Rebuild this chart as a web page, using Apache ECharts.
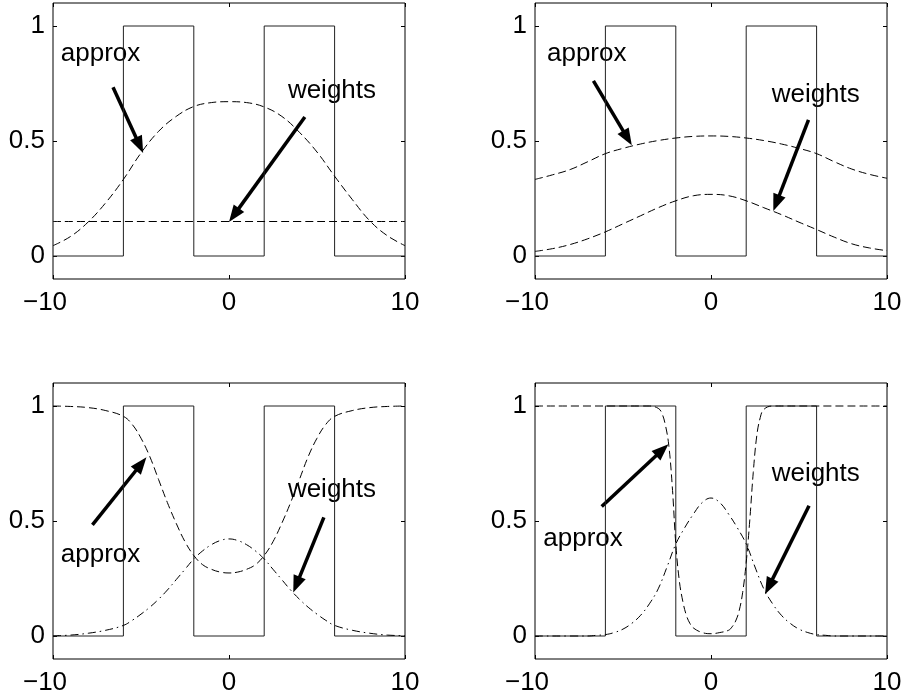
<!DOCTYPE html>
<html>
<head>
<meta charset="utf-8">
<script src="https://cdn.jsdelivr.net/npm/echarts@6/dist/echarts.min.js"></script>
<style>
  html, body { margin: 0; background: #fff; }
  #chart { width: 905px; height: 700px; }
</style>
</head>
<body>
<div id="chart"></div>
<script>
// tick values shared by all four panels
var xTicks = [-10, 0, 10];
var yTicks = [0, 0.5, 1];

// target: square wave
var squareX = [-10, -6, -6, -2, -2, 2, 2, 6, 6, 10];
var squareY = [0, 0, 1, 1, 0, 0, 1, 1, 0, 0];

// panel 1 (top left)
var tlX = [-10, -9, -8, -7, -6, -5, -4, -3, -2, -1, 0, 1, 2, 3, 4, 5, 6, 7, 8, 9, 10];
var tlApprox = [0.045, 0.085, 0.148, 0.232, 0.333, 0.448, 0.542, 0.607, 0.650, 0.667, 0.671, 0.667, 0.648, 0.607, 0.538, 0.452, 0.347, 0.246, 0.153, 0.088, 0.045];
var tlWeightsX = [-10, 10];
var tlWeights = [0.15, 0.15];

// panel 2 (top right)
var trX = [-10, -9, -8, -7, -6, -5, -4, -3, -2, -1, 0, 1, 2, 3, 4, 5, 6, 7, 8, 9, 10];
var trApprox = [0.333, 0.353, 0.376, 0.41, 0.445, 0.468, 0.487, 0.502, 0.513, 0.52, 0.522, 0.52, 0.513, 0.502, 0.487, 0.468, 0.445, 0.41, 0.378, 0.355, 0.338];
var trWeights = [0.02, 0.032, 0.05, 0.075, 0.105, 0.14, 0.175, 0.21, 0.24, 0.262, 0.268, 0.262, 0.24, 0.21, 0.18, 0.147, 0.115, 0.082, 0.053, 0.035, 0.023];

// panel 3 (bottom left)
var blX = [-10, -9, -8, -7, -6, -5.5, -5, -4.5, -4, -3.5, -3, -2.5, -2, -1.5, -1, -0.5, 0,
           0.5, 1, 1.5, 2, 2.5, 3, 3.5, 4, 4.5, 5, 5.5, 6, 7, 8, 9, 10];
var blApprox = [1, 0.998, 0.993, 0.98, 0.955, 0.92, 0.86, 0.78, 0.68, 0.58, 0.49, 0.41, 0.35, 0.31, 0.29, 0.278, 0.274,
                0.278, 0.29, 0.31, 0.35, 0.41, 0.49, 0.58, 0.68, 0.78, 0.86, 0.92, 0.955, 0.98, 0.993, 0.998, 1];
var blWeights = [0.001, 0.004, 0.012, 0.025, 0.046, 0.068, 0.095, 0.125, 0.16, 0.2, 0.245, 0.29, 0.335, 0.37, 0.397, 0.415, 0.422,
                 0.415, 0.397, 0.37, 0.335, 0.29, 0.245, 0.2, 0.16, 0.125, 0.095, 0.068, 0.046, 0.025, 0.012, 0.004, 0.001];

// panel 4 (bottom right)
var brApproxX = [-10, -5, -4, -3.5, -3, -2.8, -2.6, -2.4, -2.2, -2, -1.8, -1.6, -1.4, -1.2, -1, -0.5, 0,
                 0.5, 1, 1.2, 1.4, 1.6, 1.8, 2, 2.2, 2.4, 2.6, 2.8, 3, 3.5, 4, 5, 10];
var brApprox = [1, 1, 1, 1, 0.99, 0.97, 0.92, 0.83, 0.65, 0.4, 0.24, 0.15, 0.09, 0.055, 0.035, 0.015, 0.01,
                0.015, 0.025, 0.04, 0.065, 0.11, 0.19, 0.32, 0.5, 0.71, 0.87, 0.95, 0.985, 1, 1, 1, 1];
var brWeightsX = [-10, -7, -6.5, -6, -5.5, -5, -4.5, -4, -3.5, -3, -2.5, -2, -1.5, -1, -0.5, 0,
                  0.5, 1, 1.5, 2, 2.5, 3, 3.5, 4, 4.5, 5, 5.5, 6, 6.5, 7, 10];
var brWeights = [0, 0, 0.003, 0.006, 0.015, 0.03, 0.055, 0.09, 0.14, 0.205, 0.3, 0.4, 0.47, 0.53, 0.58, 0.6,
                 0.58, 0.53, 0.47, 0.4, 0.3, 0.205, 0.14, 0.09, 0.055, 0.03, 0.015, 0.006, 0.003, 0, 0];

// annotations: arrows [tailX, tailY, tipX, tipY], labels [x, y]
var labelTexts = ['approx', 'weights'];
var tlArrows = [[-6.59, 0.734, -4.88, 0.448], [4.31, 0.604, 0.0, 0.148]];
var tlLabels = [[-7.30, 0.879], [5.85, 0.718]];
var trArrows = [[-6.68, 0.761, -4.50, 0.481], [5.54, 0.592, 3.54, 0.196]];
var trLabels = [[-7.06, 0.879], [5.95, 0.700]];
var blArrows = [[-7.76, 0.483, -4.69, 0.777], [5.39, 0.516, 3.65, 0.189]];
var blLabels = [[-7.30, 0.355], [5.85, 0.636]];
var brArrows = [[-6.21, 0.563, -2.42, 0.834], [5.57, 0.566, 3.07, 0.182]];
var brLabels = [[-7.27, 0.422], [5.95, 0.703]];

var FONT = "'Liberation Sans', Arial, Helvetica, sans-serif";
var DASH = [8, 4];
var DASHDOT = [8, 4, 1.5, 4];

function zip(xs, ys) {
  return xs.map(function (x, i) { return [x, ys[i]]; });
}

var panels = [
  { left: 53, top: 3, approx: zip(tlX, tlApprox), weights: zip(tlWeightsX, tlWeights), wDash: DASH, arrows: tlArrows, labels: tlLabels },
  { left: 535, top: 3, approx: zip(trX, trApprox), weights: zip(trX, trWeights), wDash: DASH, arrows: trArrows, labels: trLabels },
  { left: 53, top: 383, approx: zip(blX, blApprox), weights: zip(blX, blWeights), wDash: DASHDOT, arrows: blArrows, labels: blLabels },
  { left: 535, top: 383, approx: zip(brApproxX, brApprox), weights: zip(brWeightsX, brWeights), wDash: DASHDOT, arrows: brArrows, labels: brLabels }
];

var grids = [], xAxes = [], yAxes = [], series = [];

panels.forEach(function (p, i) {
  grids.push({
    left: p.left, top: p.top, width: 352, height: 276,
    show: true, borderColor: '#000', borderWidth: 1, backgroundColor: 'transparent'
  });
  var tick = { inside: true, length: 4, lineStyle: { color: '#000', width: 1 } };
  var yTick = { inside: true, length: 4, lineStyle: { color: '#000', width: 1 }, customValues: yTicks };
  var noLine = { show: false, onZero: false };
  xAxes.push({
    gridIndex: i, type: 'value', min: -10, max: 10, interval: 10, position: 'bottom',
    axisLine: noLine, splitLine: { show: false }, axisTick: tick,
    axisLabel: {
      margin: 11, fontSize: 26, fontFamily: FONT, color: '#000',
      formatter: function (v) { return v < 0 ? '{n|\u2212' + Math.abs(v) + '}' : String(v); },
      rich: { n: { fontSize: 26, fontFamily: FONT, color: '#000', padding: [0, 16, 0, 0] } }
    }
  });
  xAxes.push({
    gridIndex: i, type: 'value', min: -10, max: 10, interval: 10, position: 'top',
    axisLine: noLine, splitLine: { show: false }, axisTick: tick,
    axisLabel: { show: false }
  });
  yAxes.push({
    gridIndex: i, type: 'value', min: -0.1, max: 1.1, position: 'left',
    axisLine: noLine, splitLine: { show: false }, axisTick: yTick,
    axisLabel: { customValues: yTicks, margin: 8, fontSize: 26, fontFamily: FONT, color: '#000' }
  });
  yAxes.push({
    gridIndex: i, type: 'value', min: -0.1, max: 1.1, position: 'right',
    axisLine: noLine, splitLine: { show: false }, axisTick: yTick,
    axisLabel: { show: false }
  });

  var base = { xAxisIndex: 2 * i, yAxisIndex: 2 * i, silent: true };

  series.push(Object.assign({
    type: 'line', data: zip(squareX, squareY), symbol: 'none',
    lineStyle: { color: '#222', width: 1 }
  }, base));
  series.push(Object.assign({
    type: 'line', data: p.approx, symbol: 'none', smooth: 0.4,
    lineStyle: { color: '#000', width: 1, type: DASH }
  }, base));
  series.push(Object.assign({
    type: 'line', data: p.weights, symbol: 'none', smooth: 0.4,
    lineStyle: { color: '#000', width: 1, type: p.wDash }
  }, base));

  // arrows
  series.push(Object.assign({
    type: 'custom', data: p.arrows, encode: { x: [0, 2], y: [1, 3] },
    renderItem: function (params, api) {
      var a = api.coord([api.value(0), api.value(1)]);
      var b = api.coord([api.value(2), api.value(3)]);
      var dx = b[0] - a[0], dy = b[1] - a[1];
      var len = Math.sqrt(dx * dx + dy * dy);
      var ux = dx / len, uy = dy / len;
      var L = 17, W = 6.5;
      var bx = b[0] - ux * L, by = b[1] - uy * L;
      return {
        type: 'group',
        children: [
          { type: 'line', shape: { x1: a[0], y1: a[1], x2: bx + ux * 3, y2: by + uy * 3 },
            style: { stroke: '#000', lineWidth: 3.5 } },
          { type: 'polygon',
            shape: { points: [[b[0], b[1]], [bx - uy * W, by + ux * W], [bx + uy * W, by - ux * W]] },
            style: { fill: '#000' } }
        ]
      };
    }
  }, base));

  // text labels
  series.push(Object.assign({
    type: 'custom', data: p.labels, encode: { x: 0, y: 1 },
    renderItem: function (params, api) {
      var c = api.coord([api.value(0), api.value(1)]);
      return {
        type: 'text', x: c[0], y: c[1],
        style: {
          text: labelTexts[params.dataIndex], fontSize: 26, fontFamily: FONT,
          fill: '#000', align: 'center', verticalAlign: 'middle'
        }
      };
    }
  }, base));
});

var chart = echarts.init(document.getElementById('chart'));
chart.setOption({
  animation: false,
  backgroundColor: '#fff',
  grid: grids,
  xAxis: xAxes,
  yAxis: yAxes,
  series: series
});
</script>
</body>
</html>
